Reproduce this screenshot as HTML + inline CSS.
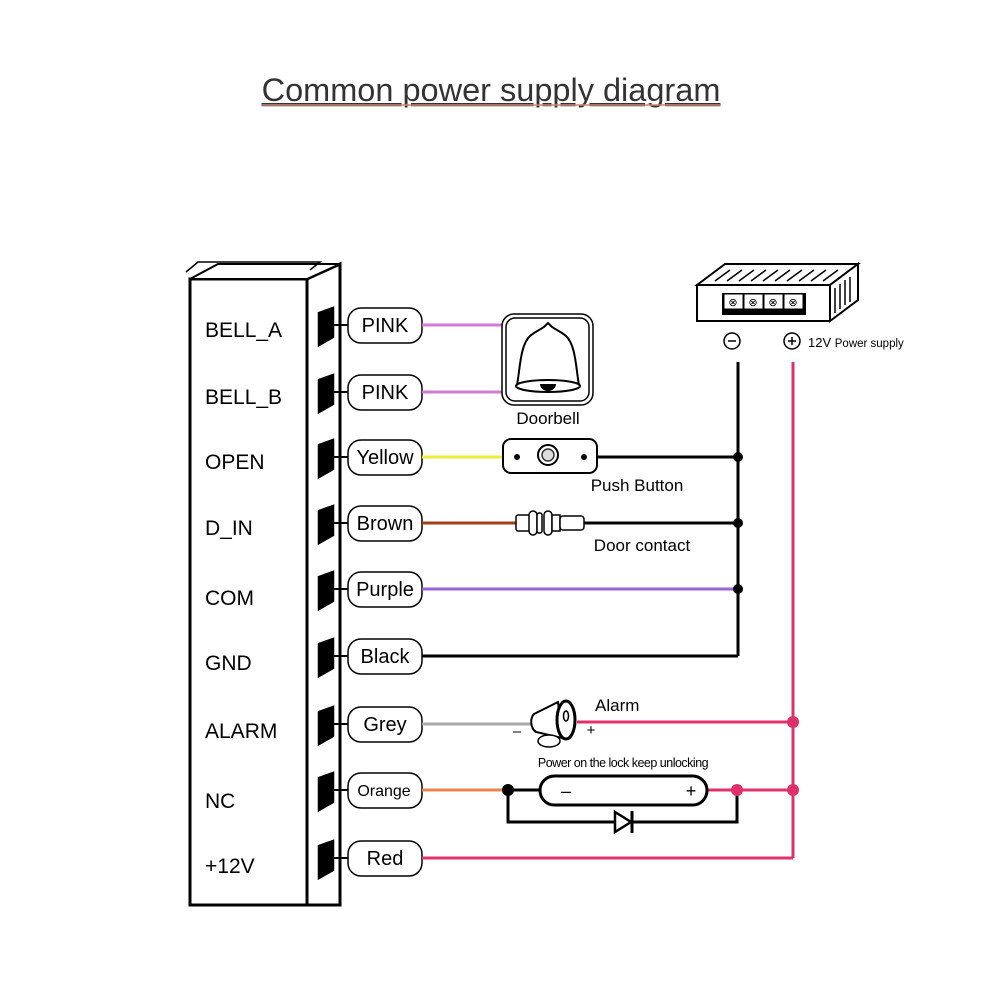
<!DOCTYPE html>
<html><head><meta charset="utf-8"><style>
body{margin:0;background:#fff}
svg{display:block;font-family:"Liberation Sans",Arial,sans-serif}
</style></head><body>
<svg width="1000" height="1000" viewBox="0 0 1000 1000">
<text x="491" y="101" text-anchor="middle" font-size="32.5" fill="#333" text-decoration="underline">Common power supply diagram</text>
<line x1="262" y1="105" x2="720" y2="105" stroke="#c87" stroke-width="1.5"/>
<g fill="none" stroke="#000" stroke-width="3">
<rect x="190" y="279" width="117" height="626" fill="#fff"/>
<polygon points="307,279 340,264 340,905 307,905" fill="#fff"/>
<polygon points="190,279 218,264 340,264 307,279" fill="#fff" stroke-width="2"/>
<path d="M186,272 L198,262 L320,262 L310,270" stroke-width="1.5"/>
</g>
<g font-size="21" fill="#000">
<text x="205" y="337">BELL_A</text><text x="205" y="404">BELL_B</text>
<text x="205" y="469">OPEN</text><text x="205" y="535">D_IN</text>
<text x="205" y="605">COM</text><text x="205" y="670">GND</text>
<text x="205" y="738">ALARM</text><text x="205" y="808">NC</text>
<text x="205" y="873">+12V</text>
</g>
<g stroke="#000" stroke-width="2.5">
<g fill="#000">
<polygon points="319,313 333,308 333,337 319,345"/><polygon points="319,380 333,375 333,404 319,412"/>
<polygon points="319,445 333,440 333,469 319,477"/><polygon points="319,511 333,506 333,535 319,543"/>
<polygon points="319,577 333,572 333,601 319,609"/><polygon points="319,644 333,639 333,668 319,676"/>
<polygon points="319,712 333,707 333,736 319,744"/><polygon points="319,778 333,773 333,802 319,810"/>
<polygon points="319,846 333,841 333,870 319,878"/>
</g>
<g stroke-width="2">
<line x1="333" y1="325" x2="348" y2="325"/><line x1="333" y1="392" x2="348" y2="392"/>
<line x1="333" y1="457" x2="348" y2="457"/><line x1="333" y1="523" x2="348" y2="523"/>
<line x1="333" y1="589" x2="348" y2="589"/><line x1="333" y1="656" x2="348" y2="656"/>
<line x1="333" y1="724" x2="348" y2="724"/><line x1="333" y1="790" x2="348" y2="790"/>
<line x1="333" y1="858" x2="348" y2="858"/>
</g>
<g fill="#fff" stroke-width="1.5">
<rect x="348" y="308" width="74" height="35" rx="13"/><rect x="348" y="375" width="74" height="35" rx="13"/>
<rect x="348" y="440" width="74" height="35" rx="13"/><rect x="348" y="506" width="74" height="35" rx="13"/>
<rect x="348" y="572" width="74" height="35" rx="13"/><rect x="348" y="639" width="74" height="35" rx="13"/>
<rect x="348" y="707" width="74" height="35" rx="13"/><rect x="348" y="773" width="74" height="35" rx="13"/>
<rect x="348" y="841" width="74" height="35" rx="13"/>
</g>
</g>
<g font-size="20" text-anchor="middle" fill="#000">
<text x="385" y="332">PINK</text><text x="385" y="399">PINK</text>
<text x="385" y="464">Yellow</text><text x="385" y="530">Brown</text>
<text x="385" y="596">Purple</text><text x="385" y="663">Black</text>
<text x="385" y="731">Grey</text><text x="384" y="796" font-size="16">Orange</text>
<text x="385" y="865">Red</text>
</g>
<g stroke-width="3" fill="none">
<line x1="422" y1="325" x2="503" y2="325" stroke="#d27ad6"/>
<line x1="422" y1="392" x2="503" y2="392" stroke="#d27ad6"/>
<line x1="422" y1="457" x2="503" y2="457" stroke="#ecec3a"/>
<line x1="422" y1="523" x2="516" y2="523" stroke="#a0401a"/>
<line x1="422" y1="589" x2="738" y2="589" stroke="#9a62d6"/>
<line x1="422" y1="656" x2="738" y2="656" stroke="#000"/>
<line x1="422" y1="724" x2="532" y2="724" stroke="#aaa"/>
<line x1="422" y1="790" x2="508" y2="790" stroke="#e8864a"/>
<line x1="422" y1="858" x2="793" y2="858" stroke="#e0306a"/>
<line x1="597" y1="457" x2="738" y2="457" stroke="#000"/>
<line x1="584" y1="523" x2="738" y2="523" stroke="#000"/>
<line x1="738" y1="362" x2="738" y2="656" stroke="#000"/>
<line x1="793" y1="362" x2="793" y2="858" stroke="#e0306a"/>
<line x1="577" y1="722" x2="793" y2="722" stroke="#e0306a"/>
<line x1="707" y1="790" x2="793" y2="790" stroke="#e0306a"/>
<line x1="508" y1="790" x2="540" y2="790" stroke="#000"/>
<path d="M508,790 V822 H737 V790" stroke="#000"/>
</g>
<g fill="#000"><circle cx="738" cy="457" r="5"/><circle cx="738" cy="523" r="5"/><circle cx="738" cy="589" r="5"/><circle cx="508" cy="790" r="6"/></g>
<g fill="#e0306a"><circle cx="793" cy="722" r="6"/><circle cx="793" cy="790" r="6"/><circle cx="737" cy="790" r="6"/></g>
<polygon points="615,812 615,832 631,822" fill="#fff" stroke="#000" stroke-width="2.5"/>
<line x1="632" y1="811" x2="632" y2="833" stroke="#000" stroke-width="3"/>
<rect x="540" y="776" width="167" height="29" rx="14.5" fill="#fff" stroke="#000" stroke-width="3"/>
<text x="566" y="797" font-size="18" text-anchor="middle">–</text>
<text x="691" y="797" font-size="18" text-anchor="middle">+</text>
<text x="623" y="767" font-size="12.5" text-anchor="middle" letter-spacing="-0.5">Power on the lock keep unlocking</text>
<rect x="502" y="314" width="91" height="91" rx="12" fill="#fff" stroke="#000" stroke-width="1.5"/>
<rect x="506" y="318" width="83" height="83" rx="9" fill="none" stroke="#000" stroke-width="1.5"/>
<path d="M517,385 C520,370 520,345 530,336 C536,331 542,329 545,326 L548,323 L551,326 C554,329 560,331 566,336 C576,345 576,370 579,385 Z" fill="#fff" stroke="#000" stroke-width="2"/>
<ellipse cx="548" cy="386" rx="32" ry="6" fill="#fff" stroke="#000" stroke-width="2"/>
<path d="M540,384 A8,7 0 0 0 556,384 Z" fill="#000"/>
<text x="548" y="424" font-size="17" text-anchor="middle">Doorbell</text>
<rect x="503" y="439" width="94" height="34" rx="8" fill="#fff" stroke="#000" stroke-width="2"/>
<circle cx="517" cy="457" r="3" fill="#000"/><circle cx="584" cy="457" r="3" fill="#000"/>
<circle cx="548" cy="455" r="10" fill="#fff" stroke="#000" stroke-width="2"/>
<circle cx="548" cy="455" r="6" fill="#ddd" stroke="#333" stroke-width="1.5"/>
<text x="637" y="491" font-size="17" text-anchor="middle">Push Button</text>
<g fill="#fff" stroke="#000" stroke-width="1.5">
<rect x="516" y="515" width="14" height="16" rx="2"/><rect x="529" y="511" width="8" height="24" rx="4"/>
<rect x="537" y="513" width="5" height="20" rx="2"/>
<rect x="544" y="511" width="8" height="24" rx="4"/><rect x="552" y="515" width="8" height="16"/>
<rect x="560" y="516" width="24" height="14" rx="3"/>
</g>
<text x="642" y="551" font-size="17" text-anchor="middle">Door contact</text>
<path d="M534,714 L558,702 L562,738 L536,732 C530,728 530,718 534,714 Z" fill="#fff" stroke="#000" stroke-width="2"/>
<ellipse cx="566" cy="720" rx="9" ry="19" fill="#fff" stroke="#000" stroke-width="3"/>
<ellipse cx="566" cy="716" rx="2.5" ry="5" fill="none" stroke="#000" stroke-width="1.5"/>
<ellipse cx="549" cy="741" rx="11" ry="6" fill="#fff" stroke="#000" stroke-width="1.5"/>
<text x="517" y="736" font-size="15" text-anchor="middle">–</text>
<text x="591" y="735" font-size="15" text-anchor="middle">+</text>
<text x="595" y="711" font-size="17">Alarm</text>
<polygon points="697,285 725,264 858,264 830,285" fill="#fff" stroke="#000" stroke-width="2"/>
<g stroke="#000" stroke-width="1.5">
<line x1="715" y1="281" x2="730" y2="270"/><line x1="727" y1="281" x2="742" y2="270"/><line x1="739" y1="281" x2="754" y2="270"/>
<line x1="751" y1="281" x2="766" y2="270"/><line x1="763" y1="281" x2="778" y2="270"/><line x1="775" y1="281" x2="790" y2="270"/>
<line x1="787" y1="281" x2="802" y2="270"/><line x1="799" y1="281" x2="814" y2="270"/><line x1="811" y1="281" x2="826" y2="270"/>
<line x1="823" y1="281" x2="838" y2="270"/>
</g>
<rect x="697" y="285" width="133" height="36" fill="#fff" stroke="#000" stroke-width="2"/>
<polygon points="830,285 858,264 858,300 830,321" fill="#fff" stroke="#000" stroke-width="2"/>
<g stroke="#000" stroke-width="1.5"><line x1="835" y1="288" x2="835" y2="313"/><line x1="840" y1="284" x2="840" y2="309"/><line x1="845" y1="280" x2="845" y2="305"/><line x1="850" y1="277" x2="850" y2="302"/></g>
<rect x="722" y="293" width="84" height="22" fill="#000"/>
<g fill="#fff" stroke="#000" stroke-width="1"><rect x="724" y="294" width="19" height="15"/><rect x="744" y="294" width="19" height="15"/><rect x="764" y="294" width="19" height="15"/><rect x="784" y="294" width="19" height="15"/></g>
<g font-size="11" text-anchor="middle"><text x="733" y="306">⊗</text><text x="753" y="306">⊗</text><text x="773" y="306">⊗</text><text x="793" y="306">⊗</text></g>
<circle cx="732" cy="341" r="8" fill="#fff" stroke="#000" stroke-width="1.5"/><line x1="728" y1="341" x2="736" y2="341" stroke="#000" stroke-width="1.5"/>
<circle cx="792" cy="341" r="8" fill="#fff" stroke="#000" stroke-width="1.5"/><line x1="788" y1="341" x2="796" y2="341" stroke="#000" stroke-width="1.5"/><line x1="792" y1="337" x2="792" y2="345" stroke="#000" stroke-width="1.5"/>
<text x="808" y="347" font-size="13">12V <tspan font-size="11.5">Power supply</tspan></text>
</svg>
</body></html>
